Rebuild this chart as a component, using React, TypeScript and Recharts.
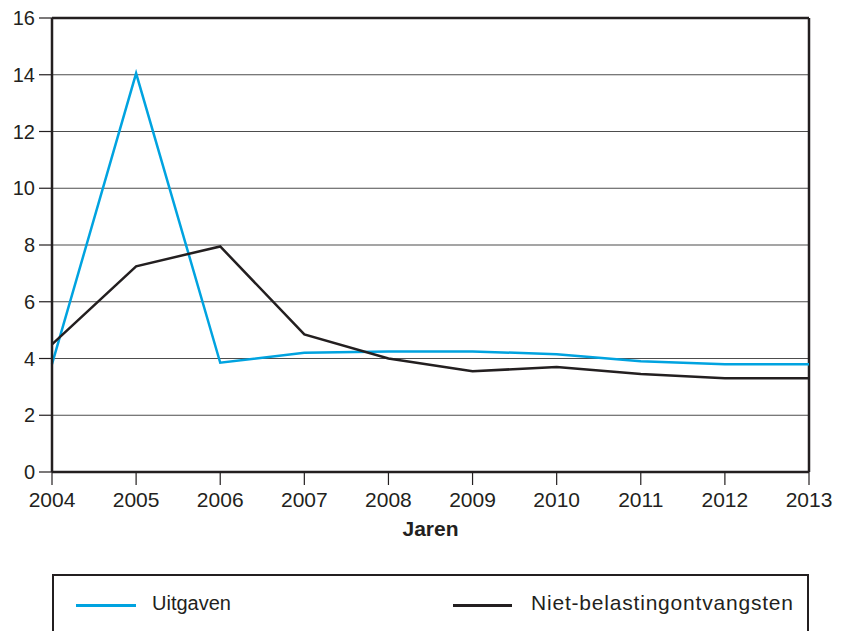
import React from "react"
import {
  LineChart,
  Line,
  XAxis,
  YAxis,
  CartesianGrid,
  ReferenceLine,
  Legend,
} from "recharts"

const years = [2004, 2005, 2006, 2007, 2008, 2009, 2010, 2011, 2012, 2013]
const uitgaven = [3.8, 14.05, 3.85, 4.2, 4.25, 4.25, 4.15, 3.9, 3.8, 3.8]
const nietBelasting = [4.5, 7.25, 7.95, 4.85, 4.0, 3.55, 3.7, 3.45, 3.3, 3.3]
const yTicks = [0, 2, 4, 6, 8, 10, 12, 14, 16]

const BLUE = "#00a3e0"
const DARK = "#231f20"
const FONT = "'Liberation Sans', Arial, sans-serif"

const data = years.map((year, i) => ({
  year,
  uitgaven: uitgaven[i],
  niet: nietBelasting[i],
}))

function LegendBox() {
  return (
    <div
      style={{
        position: "relative",
        width: 757,
        height: 57,
        boxSizing: "border-box",
        borderTop: `2.5px solid ${DARK}`,
        borderLeft: `2.5px solid ${DARK}`,
        borderRight: `2.5px solid ${DARK}`,
        fontFamily: FONT,
        fontSize: 21,
        color: DARK,
      }}
    >
      <div style={{ position: "absolute", left: 22, top: 28, width: 60, height: 3, background: BLUE }} />
      <span style={{ position: "absolute", left: 98, top: 15, lineHeight: "24px", fontSize: 20 }}>Uitgaven</span>
      <div style={{ position: "absolute", left: 399, top: 28, width: 59, height: 3, background: DARK }} />
      <span style={{ position: "absolute", left: 477, top: 15, lineHeight: "24px", letterSpacing: 0.8 }}>
        Niet-belastingontvangsten
      </span>
    </div>
  )
}

export default function App() {
  return (
    <div style={{ position: "absolute", left: 0, top: 0, width: 842, height: 631, background: "#fff" }}>
      <LineChart
        width={842}
        height={631}
        data={data}
        margin={{ top: 18, right: 33, left: 0, bottom: 89 }}
        style={{ fontFamily: FONT }}
      >
        <CartesianGrid vertical={false} stroke="#4d4d4d" strokeWidth={1.2} />
        <XAxis
          dataKey="year"
          type="number"
          domain={[2004, 2013]}
          ticks={years}
          interval={0}
          height={70}
          tickSize={13}
          tickMargin={7}
          tick={{ fontSize: 21, fill: DARK }}
          tickLine={{ stroke: DARK, strokeWidth: 1.2 }}
          axisLine={{ stroke: DARK, strokeWidth: 2.5 }}
          label={{
            value: "Jaren",
            position: "insideBottom",
            offset: 6,
            style: { fontSize: 21, fontWeight: "bold", fill: DARK },
          }}
        />
        <YAxis
          domain={[0, 16]}
          ticks={yTicks}
          interval={0}
          width={52}
          tickSize={13}
          tickMargin={4}
          tick={{ fontSize: 20, fill: DARK }}
          tickLine={{ stroke: DARK, strokeWidth: 1.2 }}
          axisLine={{ stroke: DARK, strokeWidth: 2.5 }}
        />
        <ReferenceLine y={16} stroke={DARK} strokeWidth={2.5} />
        <ReferenceLine x={2013} stroke={DARK} strokeWidth={2.5} />
        <Line
          type="linear"
          dataKey="uitgaven"
          name="Uitgaven"
          stroke={BLUE}
          strokeWidth={2.5}
          dot={false}
          isAnimationActive={false}
        />
        <Line
          type="linear"
          dataKey="niet"
          name="Niet-belastingontvangsten"
          stroke={DARK}
          strokeWidth={2.5}
          dot={false}
          isAnimationActive={false}
        />
        <Legend
          layout="vertical"
          align="center"
          verticalAlign="middle"
          wrapperStyle={{ top: 574, left: 52, width: 757, height: 57 }}
          content={() => <LegendBox />}
        />
      </LineChart>
    </div>
  )
}
